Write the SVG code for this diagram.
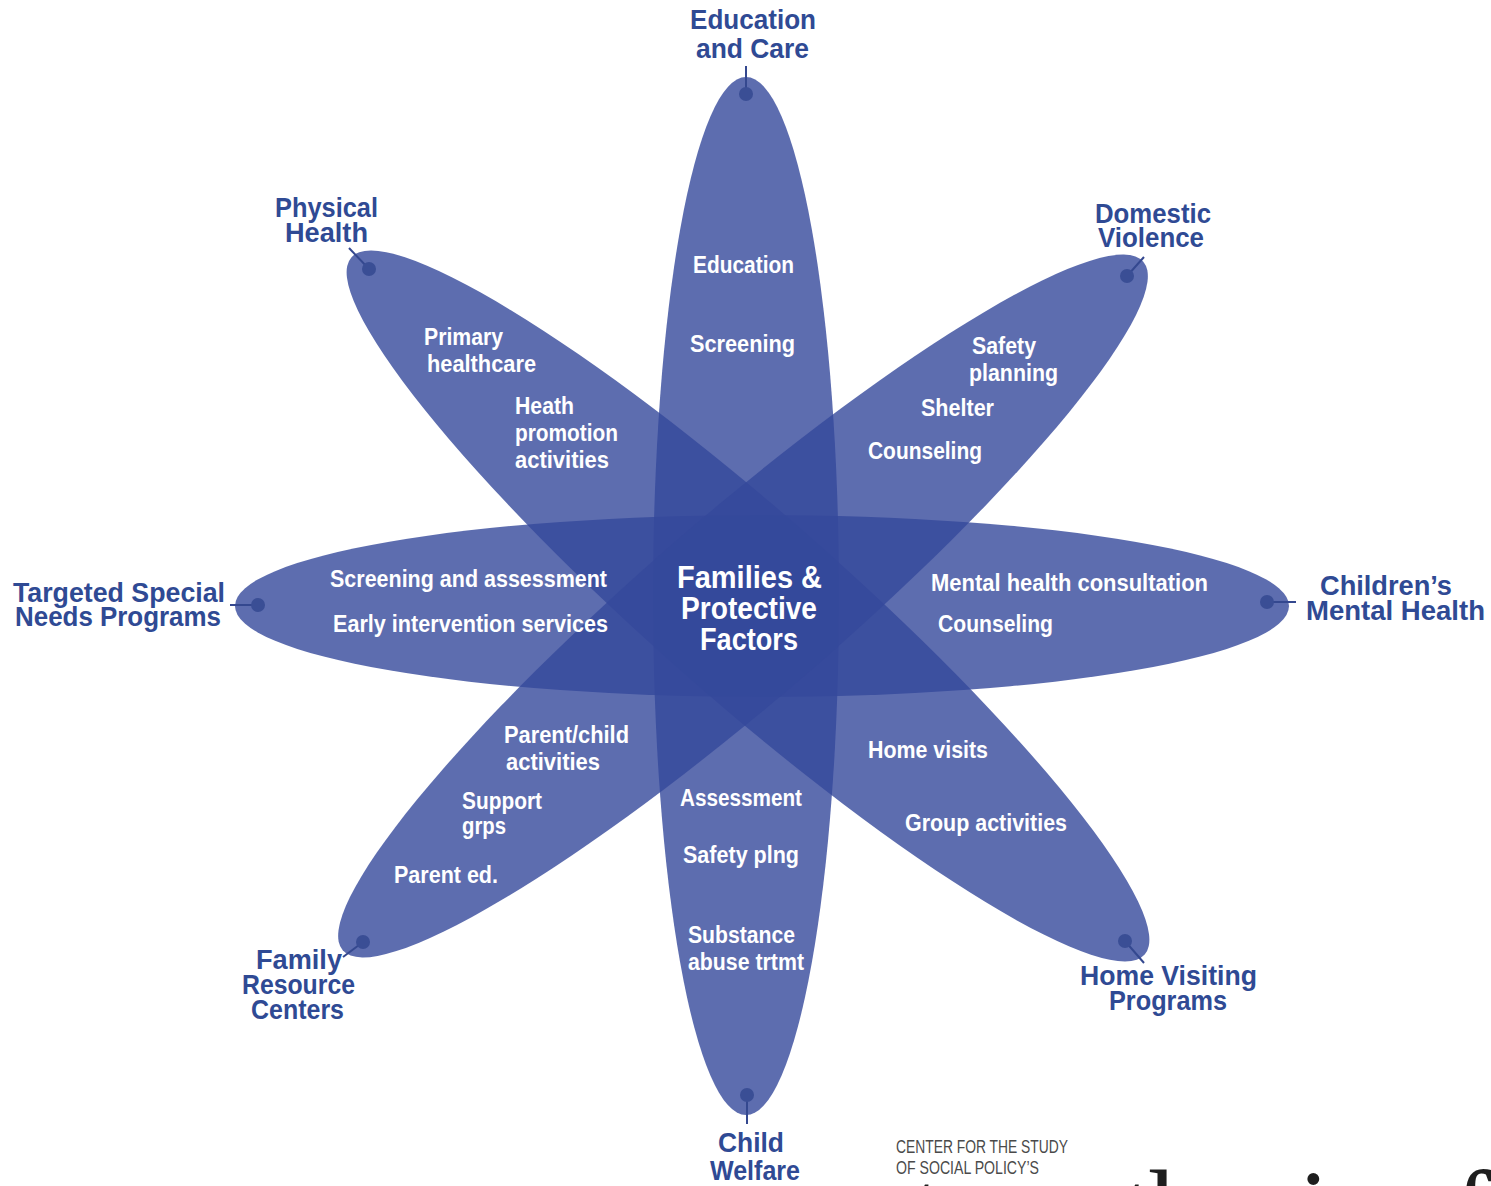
<svg xmlns="http://www.w3.org/2000/svg" width="1491" height="1186" viewBox="0 0 1491 1186">
<defs>
<style>
.petal{fill:rgb(52,72,155);fill-opacity:0.8}
.lbl{font-family:"Liberation Sans",Arial,sans-serif;font-weight:bold;font-size:28px;fill:#2f4a94}
.in{font-family:"Liberation Sans",Arial,sans-serif;font-weight:bold;font-size:23px;fill:#ffffff}
.ctr{font-family:"Liberation Sans",Arial,sans-serif;font-weight:bold;font-size:31px;fill:#ffffff}
.lead{stroke:#34488f;stroke-width:2;fill:none}
.dot{fill:#3a4e95}
.small{font-family:"Liberation Sans",Arial,sans-serif;font-size:18px;fill:#4a4a4a}
.big{font-family:"Liberation Serif","Times New Roman",serif;font-size:112px;fill:#1e1e1e;letter-spacing:-4px}
</style>
</defs>
<rect width="1491" height="1186" fill="#ffffff"/>
<g id="petals">
<ellipse id="petal-education" class="petal" cx="746" cy="596" rx="93" ry="519"/>
<ellipse id="petal-targeted" class="petal" cx="762" cy="606" rx="527" ry="91"/>
<ellipse id="petal-physical" class="petal" cx="0" cy="0" rx="528" ry="93" transform="translate(748 606) rotate(41.3)"/>
<ellipse id="petal-domestic" class="petal" cx="0" cy="0" rx="528" ry="93" transform="translate(743 606) rotate(-40.7)"/>
</g>
<g id="connectors">
<line class="lead" x1="746" y1="94" x2="746" y2="66"/>
<line class="lead" x1="369" y1="269" x2="349" y2="248"/>
<line class="lead" x1="1127" y1="276" x2="1144" y2="257"/>
<line class="lead" x1="1267" y1="602" x2="1296" y2="602"/>
<line class="lead" x1="258" y1="605" x2="230" y2="605"/>
<line class="lead" x1="363" y1="942" x2="343" y2="957"/>
<line class="lead" x1="1125" y1="941" x2="1144" y2="963"/>
<line class="lead" x1="747" y1="1095" x2="747" y2="1124"/>
<circle class="dot" cx="746" cy="94" r="7"/>
<circle class="dot" cx="369" cy="269" r="7"/>
<circle class="dot" cx="1127" cy="276" r="7"/>
<circle class="dot" cx="1267" cy="602" r="7"/>
<circle class="dot" cx="258" cy="605" r="7"/>
<circle class="dot" cx="363" cy="942" r="7"/>
<circle class="dot" cx="1125" cy="941" r="7"/>
<circle class="dot" cx="747" cy="1095" r="7"/>
</g>
<g id="node-center">
<text class="ctr" x="677" y="588" textLength="145" lengthAdjust="spacingAndGlyphs">Families &amp;</text>
<text class="ctr" x="681" y="619" textLength="136" lengthAdjust="spacingAndGlyphs">Protective</text>
<text class="ctr" x="700" y="650" textLength="98" lengthAdjust="spacingAndGlyphs">Factors</text>
</g>
<g id="node-education">
<text class="lbl" x="690" y="29" textLength="126" lengthAdjust="spacingAndGlyphs">Education</text>
<text class="lbl" x="696" y="58" textLength="113" lengthAdjust="spacingAndGlyphs">and Care</text>
<text class="in" x="693" y="273" textLength="101" lengthAdjust="spacingAndGlyphs">Education</text>
<text class="in" x="690" y="352" textLength="105" lengthAdjust="spacingAndGlyphs">Screening</text>
</g>
<g id="node-physical">
<text class="lbl" x="275" y="217" textLength="103" lengthAdjust="spacingAndGlyphs">Physical</text>
<text class="lbl" x="285" y="242" textLength="83" lengthAdjust="spacingAndGlyphs">Health</text>
<text class="in" x="424" y="345" textLength="79" lengthAdjust="spacingAndGlyphs">Primary</text>
<text class="in" x="427" y="372" textLength="109" lengthAdjust="spacingAndGlyphs">healthcare</text>
<text class="in" x="515" y="414" textLength="59" lengthAdjust="spacingAndGlyphs">Heath</text>
<text class="in" x="515" y="441" textLength="103" lengthAdjust="spacingAndGlyphs">promotion</text>
<text class="in" x="515" y="468" textLength="94" lengthAdjust="spacingAndGlyphs">activities</text>
</g>
<g id="node-domestic">
<text class="lbl" x="1095" y="223" textLength="116" lengthAdjust="spacingAndGlyphs">Domestic</text>
<text class="lbl" x="1098" y="247" textLength="106" lengthAdjust="spacingAndGlyphs">Violence</text>
<text class="in" x="972" y="354" textLength="64" lengthAdjust="spacingAndGlyphs">Safety</text>
<text class="in" x="969" y="381" textLength="89" lengthAdjust="spacingAndGlyphs">planning</text>
<text class="in" x="921" y="416" textLength="73" lengthAdjust="spacingAndGlyphs">Shelter</text>
<text class="in" x="868" y="459" textLength="114" lengthAdjust="spacingAndGlyphs">Counseling</text>
</g>
<g id="node-targeted">
<text class="lbl" x="13" y="602" textLength="212" lengthAdjust="spacingAndGlyphs">Targeted Special</text>
<text class="lbl" x="15" y="626" textLength="206" lengthAdjust="spacingAndGlyphs">Needs Programs</text>
<text class="in" x="330" y="587" textLength="277" lengthAdjust="spacingAndGlyphs">Screening and assessment</text>
<text class="in" x="333" y="632" textLength="275" lengthAdjust="spacingAndGlyphs">Early intervention services</text>
</g>
<g id="node-mental">
<text class="lbl" x="1320" y="595" textLength="132" lengthAdjust="spacingAndGlyphs">Children’s</text>
<text class="lbl" x="1306" y="620" textLength="179" lengthAdjust="spacingAndGlyphs">Mental Health</text>
<text class="in" x="931" y="591" textLength="277" lengthAdjust="spacingAndGlyphs">Mental health consultation</text>
<text class="in" x="938" y="632" textLength="115" lengthAdjust="spacingAndGlyphs">Counseling</text>
</g>
<g id="node-family">
<text class="lbl" x="256" y="969" textLength="86" lengthAdjust="spacingAndGlyphs">Family</text>
<text class="lbl" x="242" y="994" textLength="113" lengthAdjust="spacingAndGlyphs">Resource</text>
<text class="lbl" x="251" y="1019" textLength="93" lengthAdjust="spacingAndGlyphs">Centers</text>
<text class="in" x="504" y="743" textLength="125" lengthAdjust="spacingAndGlyphs">Parent/child</text>
<text class="in" x="506" y="770" textLength="94" lengthAdjust="spacingAndGlyphs">activities</text>
<text class="in" x="462" y="809" textLength="80" lengthAdjust="spacingAndGlyphs">Support</text>
<text class="in" x="462" y="834" textLength="44" lengthAdjust="spacingAndGlyphs">grps</text>
<text class="in" x="394" y="883" textLength="104" lengthAdjust="spacingAndGlyphs">Parent ed.</text>
</g>
<g id="node-home">
<text class="lbl" x="1080" y="985" textLength="177" lengthAdjust="spacingAndGlyphs">Home Visiting</text>
<text class="lbl" x="1109" y="1010" textLength="118" lengthAdjust="spacingAndGlyphs">Programs</text>
<text class="in" x="868" y="758" textLength="120" lengthAdjust="spacingAndGlyphs">Home visits</text>
<text class="in" x="905" y="831" textLength="162" lengthAdjust="spacingAndGlyphs">Group activities</text>
</g>
<g id="node-child">
<text class="lbl" x="718" y="1152" textLength="66" lengthAdjust="spacingAndGlyphs">Child</text>
<text class="lbl" x="710" y="1180" textLength="90" lengthAdjust="spacingAndGlyphs">Welfare</text>
<text class="in" x="680" y="806" textLength="122" lengthAdjust="spacingAndGlyphs">Assessment</text>
<text class="in" x="683" y="863" textLength="116" lengthAdjust="spacingAndGlyphs">Safety plng</text>
<text class="in" x="688" y="943" textLength="107" lengthAdjust="spacingAndGlyphs">Substance</text>
<text class="in" x="688" y="970" textLength="116" lengthAdjust="spacingAndGlyphs">abuse trtmt</text>
</g>
<g id="credit">
<text class="small" x="896" y="1153" textLength="172" lengthAdjust="spacingAndGlyphs">CENTER FOR THE STUDY</text>
<text class="small" x="896" y="1174" textLength="143" lengthAdjust="spacingAndGlyphs">OF SOCIAL POLICY’S</text>
<text class="big" x="872" y="1248">strengthening families</text>
</g>
</svg>
